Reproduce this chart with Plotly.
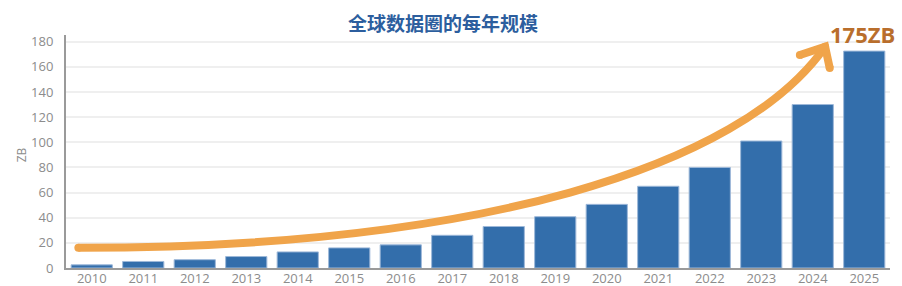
import plotly.graph_objects as go

years = list(range(2010, 2026))
values = [2.5, 5.2, 6.6, 9.1, 12.8, 16.0, 18.4, 26.0, 33.0, 40.8, 50.6, 65.0, 80.0, 101.0, 130.0, 172.5]
tick_vals = [0, 20, 40, 60, 80, 100, 120, 140, 160, 180]

# decorative trend arrow (cubic Bezier control points, in year / ZB units)
curve_x = [2009.74, 2017.5, 2022.6, 2024.24]
curve_y = [16.1, 16.0, 80.0, 176.0]
head_x = [2023.75, 2024.24, 2024.33]
head_y = [169.4, 176.0, 159.0]

title_text = "全球数据圈的每年规模"
label_text = "175ZB"
y_title = "ZB"

BAR = "#336EAB"
ORANGE = "#F0A44A"
GRAY = "#8C8C8C"
FONT = "Open Sans"

fig = go.Figure()
fig.add_trace(go.Bar(
    x=years, y=values, width=0.8,
    marker=dict(color=BAR, line=dict(color="#9DB8D9", width=1)),
    hoverinfo="skip",
))
fig.add_trace(go.Scatter(
    x=[curve_x[0], head_x[0], head_x[2], head_x[1]], y=[curve_y[0], head_y[0], head_y[2], head_y[1]],
    mode="markers", marker=dict(color=ORANGE, size=8, line=dict(width=0)),
    hoverinfo="skip",
))

curve_path = "M {},{} C {},{} {},{} {},{}".format(
    curve_x[0], curve_y[0], curve_x[1], curve_y[1], curve_x[2], curve_y[2], curve_x[3], curve_y[3])
head_path = "M {},{} L {},{} L {},{}".format(
    head_x[0], head_y[0], head_x[1], head_y[1], head_x[2], head_y[2])

fig.update_layout(
    width=902, height=286,
    margin=dict(l=66, r=12, t=35, b=18),
    paper_bgcolor="white", plot_bgcolor="white",
    showlegend=False,
    font=dict(family=FONT, color=GRAY, size=13),
    xaxis=dict(
        range=[2009.5, 2025.5], tickmode="array", tickvals=years,
        ticktext=[str(y) for y in years], automargin=False,
        showgrid=False, zeroline=False, showline=True, linecolor="#9A9A9A", linewidth=2,
        ticks="", ticklabelstandoff=-3, tickfont=dict(size=13, color=GRAY, family=FONT),
    ),
    yaxis=dict(
        range=[0, 185.3], tickmode="array", tickvals=tick_vals, automargin=False,
        showgrid=True, gridcolor="#EFEFEF", gridwidth=1.5,
        zeroline=False, showline=True, linecolor="#9A9A9A", linewidth=2,
        ticks="", ticklabelstandoff=8,
        tickfont=dict(size=13, color=GRAY, family=FONT),
    ),
    shapes=[
        dict(type="path", xref="x", yref="y", path=curve_path,
             line=dict(color=ORANGE, width=8), fillcolor="rgba(0,0,0,0)"),
        dict(type="path", xref="x", yref="y", path=head_path,
             line=dict(color=ORANGE, width=8), fillcolor="rgba(0,0,0,0)"),
    ],
    annotations=[
        dict(text="<b>" + title_text + "</b>", xref="paper", yref="paper",
             x=(443 - 66) / 824, y=1, yshift=13, xanchor="center", yanchor="middle",
             showarrow=False, font=dict(size=19, color="#2C5E9E", family="Noto Sans CJK SC")),
        dict(text="<b>" + label_text + "</b>", xref="paper", yref="paper",
             x=(862 - 66) / 824, y=1, yshift=1, xanchor="center", yanchor="middle",
             showarrow=False, font=dict(size=22, color="#B96E2C", family=FONT)),
        dict(text=y_title, xref="paper", yref="paper",
             x=0, xshift=-45, y=(267.5 - 155) / 232.5, xanchor="center", yanchor="middle",
             textangle=-90, showarrow=False, font=dict(size=12, color=GRAY, family=FONT)),
    ],
)

fig.write_html("out.html")
